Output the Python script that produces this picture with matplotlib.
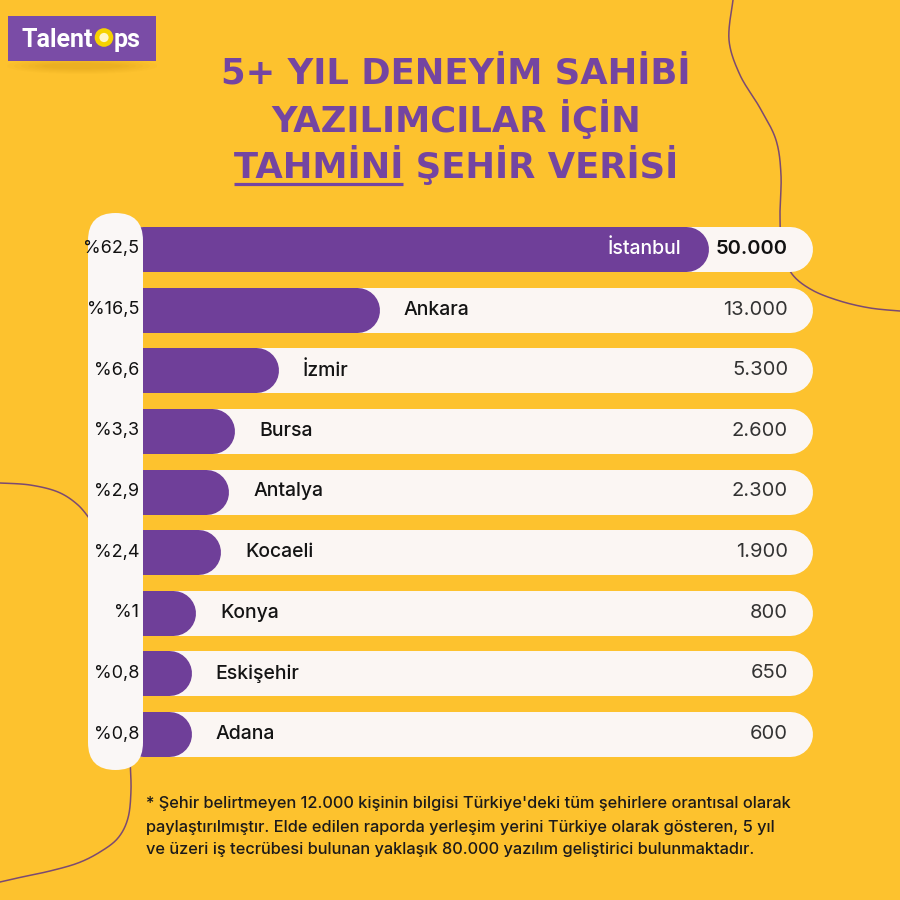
import numpy as np
import matplotlib
matplotlib.use("Agg")
import matplotlib.pyplot as plt
from matplotlib.patches import FancyBboxPatch, Rectangle, Circle, Ellipse
from matplotlib.transforms import blended_transform_factory, IdentityTransform

# -------------------- data --------------------
cities = ["İstanbul", "Ankara", "İzmir", "Bursa", "Antalya",
          "Kocaeli", "Konya", "Eskişehir", "Adana"]
shares = [62.5, 16.5, 6.6, 3.3, 2.9, 2.4, 1.0, 0.8, 0.8]
counts = [50000, 13000, 5300, 2600, 2300, 1900, 800, 650, 600]

title_lines = ["5+ YIL DENEYİM SAHİBİ", "YAZILIMCILAR İÇİN", "TAHMİNİ ŞEHİR VERİSİ"]
underlined_word = "TAHMİNİ"
footnote = ["* Şehir belirtmeyen 12.000 kişinin bilgisi Türkiye'deki tüm şehirlere orantısal olarak",
            "paylaştırılmıştır. Elde edilen raporda yerleşim yerini Türkiye olarak gösteren, 5 yıl",
            "ve üzeri iş tecrübesi bulunan yaklaşık 80.000 yazılım geliştirici bulunmaktadır."]

# -------------------- style --------------------
BG = "#FDC22E"
PURPLE = "#6F3F99"
TITLE_PURPLE = "#7445A1"
ROW_WHITE = "#FBF6F3"
COL_WHITE = "#FAF7F6"
CURVE = "#7B4A72"
LABEL_FONT = ["Inter", "DejaVu Sans"]
DPI = 100


def smooth(xs, ys, n=20):
    # Catmull-Rom through a few hand-placed guide points (decoration only)
    pts = np.column_stack([xs, ys]).astype(float)
    pts = np.vstack([pts[0], pts, pts[-1]])
    out = []
    t = np.linspace(0, 1, n, endpoint=False)[:, None]
    for k in range(1, len(pts) - 2):
        p0, p1, p2, p3 = pts[k - 1], pts[k], pts[k + 1], pts[k + 2]
        out.append(0.5 * (2 * p1 + (-p0 + p2) * t + (2 * p0 - 5 * p1 + 4 * p2 - p3) * t ** 2
                          + (-p0 + 3 * p1 - 3 * p2 + p3) * t ** 3))
    out.append(pts[-1][None, :])
    out = np.vstack(out)
    return out[:, 0], out[:, 1]


fig = plt.figure(figsize=(9, 9), dpi=DPI, facecolor=BG)

# background axes in pixel units (origin top-left)
bg = fig.add_axes([0, 0, 1, 1], zorder=0)
bg.set_xlim(0, 900)
bg.set_ylim(900, 0)
bg.axis("off")
bg.set_facecolor(BG)

# decorative curves
cx, cy = smooth([733, 729, 740, 760, 776, 781, 780, 782, 792, 812, 840, 870, 900],
                [0, 40, 75, 108, 140, 175, 215, 250, 274, 290, 301, 308, 311])
bg.plot(cx, cy, color=CURVE, lw=1.1, zorder=1)
cx, cy = smooth([0, 30, 58, 78, 92], [483, 485, 492, 505, 522])
bg.plot(cx, cy, color=CURVE, lw=1.1, zorder=1)
cx, cy = smooth([130, 131, 128, 118, 100, 78, 50, 22, 0],
                [760, 790, 818, 838, 852, 863, 871, 877, 882])
bg.plot(cx, cy, color=CURVE, lw=1.1, zorder=1)

# logo with a soft shadow
for k in range(6):
    bg.add_patch(Ellipse((82, 66), 150 - 14 * k, 16 - 2 * k, fc="#b07a00", ec="none",
                         alpha=0.035, zorder=2))
bg.add_patch(Rectangle((8, 16), 148, 45, fc="#7A4CA6", ec="none", zorder=3))
bg.text(93, 47, "Talent", color="white", fontsize=18, fontweight="bold",
        family=["Roboto", "DejaVu Sans"], ha="right", va="baseline", zorder=4)
bg.add_patch(Circle((104, 37.5), 9.3, fc="#F6D200", ec="none", zorder=4))
bg.add_patch(Circle((104, 37.5), 4.6, fc="#FFF6C8", ec="none", zorder=5))
bg.text(114, 47, "ps", color="white", fontsize=18, fontweight="bold",
        family=["Roboto", "DejaVu Sans"], ha="left", va="baseline", zorder=4)

# title
TITLE_SIZE = 25.5
title_texts = []
for line, yb in zip(title_lines, [83, 132, 178]):
    t = bg.text(456, yb, line, color=TITLE_PURPLE, fontsize=TITLE_SIZE, fontweight="bold",
                family="DejaVu Sans", ha="center", va="baseline", zorder=4)
    title_texts.append(t)

# white column for percentages
col = FancyBboxPatch((88, 213), 55, 557, boxstyle="round,pad=0,rounding_size=27.5",
                     fc=COL_WHITE, ec="none", zorder=10, clip_on=False)

# -------------------- bar axes --------------------
ax_left, ax_right = 143, 686
row_top, row_bot = 249, 734
step = (row_bot - row_top) / (len(cities) - 1)
ax = fig.add_axes([ax_left / 900, 1 - (row_bot + step / 2) / 900,
                   (ax_right - ax_left) / 900, (row_bot - row_top + step) / 900], zorder=1)
ax.patch.set_alpha(0)
p = 0.7
ax.set_xscale("function", functions=(lambda x: np.power(np.clip(x, 0, None), p),
                                     lambda x: np.power(np.clip(x, 0, None), 1 / p)))
ax.set_xlim(0, max(shares))
ax.set_ylim(len(cities) - 0.5, -0.5)
ax.axis("off")

bar_lw = 45 * 72 / DPI
row_tr = blended_transform_factory(ax.transAxes, ax.transData)
px_tr = blended_transform_factory(bg.transData, ax.transData)

for i, (city, s, c) in enumerate(zip(cities, shares, counts)):
    # row background pill
    ax.plot([0, (790 - ax_left) / (ax_right - ax_left)], [i, i], transform=row_tr,
            color=ROW_WHITE, lw=bar_lw, solid_capstyle="round", clip_on=False, zorder=1)
    # bar
    ax.plot([0, s], [i, i], color=PURPLE, lw=bar_lw, solid_capstyle="round",
            clip_on=False, zorder=2)
    # city label
    if s > 50:
        ax.annotate(city, xy=(s, i), xytext=(-5, 0), textcoords="offset pixels",
                    ha="right", va="center", color="white", fontsize=14,
                    family=LABEL_FONT, fontweight="medium", zorder=5)
    else:
        ax.annotate(city, xy=(s, i), xytext=(47, 0), textcoords="offset pixels",
                    ha="left", va="center", color="#141414", fontsize=14,
                    family=LABEL_FONT, fontweight="medium", zorder=5)
    # count label
    cnt = f"{c:,}".replace(",", ".")
    bold = i == 0
    ax.text(788, i, cnt, transform=px_tr, ha="right", va="center",
            fontsize=14.5, family=LABEL_FONT,
            fontweight="semibold" if bold else "normal",
            color="#111111" if bold else "#333333", zorder=5)
    # share label
    pct = f"%{s:g}".replace(".", ",")
    ax.text(139, i, pct, transform=px_tr, ha="right", va="center",
            fontsize=13, family=LABEL_FONT, color="#111111", zorder=11)

col.set_transform(bg.transData)
ax.add_artist(col)

# footnote
for line, yb in zip(footnote, [808, 832, 854]):
    bg.text(146, yb, line, color="#1c1a1a", fontsize=11.8, family=LABEL_FONT,
            fontweight="medium", ha="left", va="baseline", zorder=4)

# underline the word in the third title line
fig.canvas.draw()
renderer = fig.canvas.get_renderer()
x0 = title_texts[2].get_window_extent(renderer).x0
tmp = bg.text(0, 0, underlined_word, fontsize=TITLE_SIZE, fontweight="bold", family="DejaVu Sans")
w = tmp.get_window_extent(renderer).width
tmp.remove()
bg.plot([x0, x0 + w], [183.5, 183.5], color=TITLE_PURPLE, lw=2.3, solid_capstyle="butt",
        transform=blended_transform_factory(IdentityTransform(), bg.transData), zorder=4)

fig.savefig("out.png", dpi=DPI, facecolor=BG)
